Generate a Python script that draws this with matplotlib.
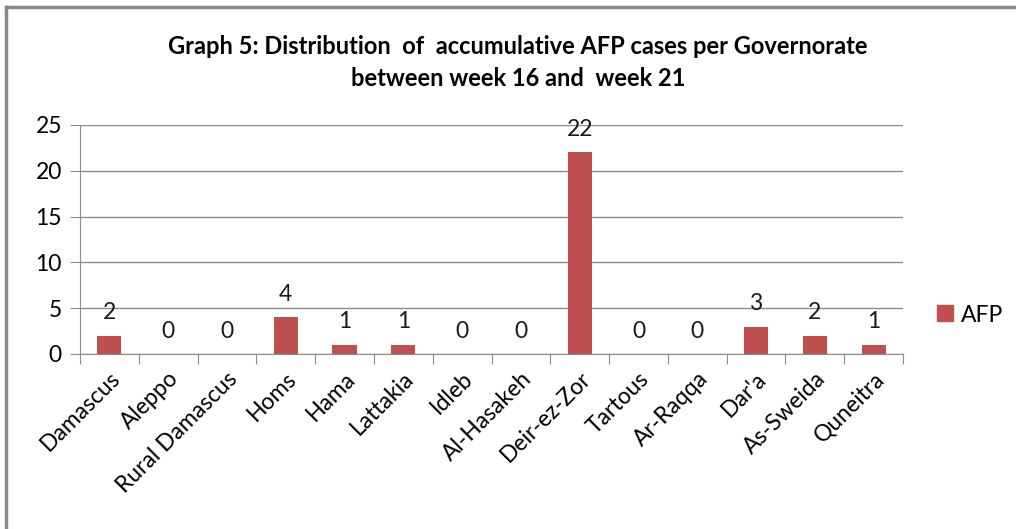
import matplotlib.pyplot as plt
from matplotlib.lines import Line2D

governorates = ['Damascus', 'Aleppo', 'Rural Damascus', 'Homs', 'Hama', 'Lattakia',
                'Idleb', 'Al-Hasakeh', 'Deir-ez-Zor', 'Tartous', 'Ar-Raqqa', "Dar'a",
                'As-Sweida', 'Quneitra']
afp_cases = [2, 0, 0, 4, 1, 1, 0, 0, 22, 0, 0, 3, 2, 1]
y_ticks = [0, 5, 10, 15, 20, 25]

plt.rcParams['font.family'] = ['Lato', 'DejaVu Sans']

fig = plt.figure(figsize=(10.16, 5.29), dpi=100)
ax = fig.add_axes([80 / 1016, 1 - 354 / 529, (903 - 80) / 1016, (354 - 125) / 529])

bar_color = '#C0504D'
grid_color = '#8C8C8C'
x = list(range(len(governorates)))
ax.bar(x, afp_cases, width=0.41, color=bar_color, zorder=3)

for xi, v in zip(x, afp_cases):
    ax.annotate(str(v), (xi, v), xytext=(0, 9), textcoords='offset points',
                ha='center', va='bottom', fontsize=16.5, color='#1a1a1a')

ax.set_xlim(-0.5, len(governorates) - 0.5)
ax.set_ylim(0, 25)
ax.set_yticks(y_ticks)
ax.set_yticklabels([str(t) for t in y_ticks], fontsize=16.5)
ax.yaxis.grid(True, color=grid_color, linewidth=1)
ax.set_axisbelow(True)

ax.set_xticks([i - 0.5 for i in range(len(governorates) + 1)])
ax.set_xticklabels([])
ax.set_xticks(x, minor=True)
ax.set_xticklabels(governorates, minor=True, rotation=45, ha='right',
                   rotation_mode='anchor', fontsize=16.5)
ax.tick_params(axis='x', which='major', length=7, color=grid_color)
ax.tick_params(axis='x', which='minor', length=0, pad=10)
ax.tick_params(axis='y', length=7, color=grid_color, pad=6)

for s in ['top', 'right']:
    ax.spines[s].set_visible(False)
ax.spines['left'].set_color(grid_color)
ax.spines['bottom'].set_color(grid_color)

fig.text(518 / 1016, 1 - 47 / 529, 'Graph 5: Distribution  of  accumulative AFP cases per Governorate',
         ha='center', va='center', fontsize=17, fontweight='bold')
fig.text(518 / 1016, 1 - 78 / 529, 'between week 16 and  week 21',
         ha='center', va='center', fontsize=17, fontweight='bold')

handle = Line2D([], [], marker='s', linestyle='none', color=bar_color, markersize=11)
fig.legend([handle], ['AFP'], loc='center left', bbox_to_anchor=(936 / 1016, 1 - 315 / 529),
           frameon=False, fontsize=16.5, handletextpad=0.3, handlelength=0.8,
           borderpad=0, borderaxespad=0)

# figure border (top and left edge only visible)
fig.add_artist(Line2D([6 / 1016, 1], [1 - 7 / 529, 1 - 7 / 529], color='#888888', linewidth=2.5))
fig.add_artist(Line2D([6 / 1016, 6 / 1016], [0, 1 - 7 / 529], color='#888888', linewidth=2.5))

fig.savefig('out.png', dpi=100)
